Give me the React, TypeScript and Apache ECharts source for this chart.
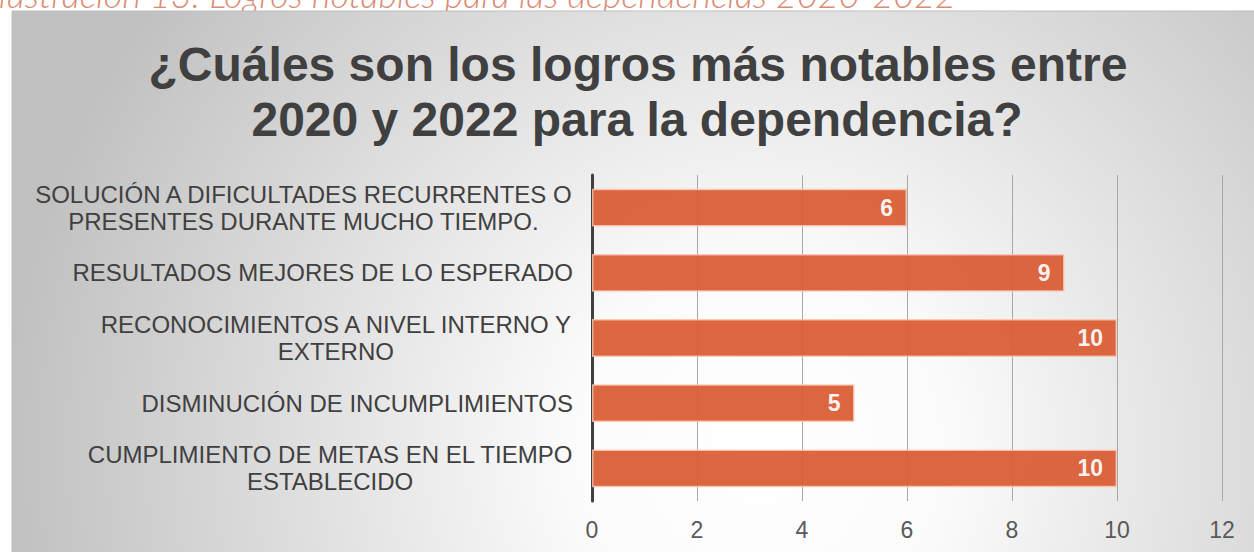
import React, { useEffect, useRef } from "react";
import * as echarts from "echarts";

const categories: string[] = [
  "SOLUCIÓN A DIFICULTADES RECURRENTES O\nPRESENTES DURANTE MUCHO TIEMPO.",
  "RESULTADOS MEJORES DE LO ESPERADO",
  "RECONOCIMIENTOS A NIVEL INTERNO Y\nEXTERNO",
  "DISMINUCIÓN DE INCUMPLIMIENTOS",
  "CUMPLIMIENTO DE METAS EN EL TIEMPO\nESTABLECIDO",
];
const values: number[] = [6, 9, 10, 5, 10];
const xTicks: number[] = [0, 2, 4, 6, 8, 10, 12];
const titleLines: string[] = [
  "¿Cuáles son los logros más notables entre",
  "2020 y 2022 para la dependencia?",
];
const caption = "Ilustración 13: Logros notables para las dependencias 2020-2022";

export default function App() {
  const ref = useRef<HTMLDivElement>(null);
  useEffect(() => {
    if (!ref.current) return;
    const chart = echarts.init(ref.current, undefined, { renderer: "svg" });
    const font = "'Liberation Sans', Arial, Helvetica, sans-serif";
    chart.setOption({
      animation: false,
      textStyle: { fontFamily: font },
      graphic: [
        {
          type: "rect",
          z: -10,
          silent: true,
          shape: { x: 12, y: 11, width: 1270, height: 570 },
          style: {
            fill: new echarts.graphic.RadialGradient(760, 450, 760, [
              { offset: 0, color: "#ffffff" },
              { offset: 0.25, color: "#fbfbfb" },
              { offset: 1, color: "#c0c0c0" },
            ], true),
            stroke: "#bdbdbd",
            lineWidth: 1,
          },
        },
        {
          type: "text",
          x: -10,
          y: 12,
          z: -20,
          silent: true,
          style: {
            text: caption,
            fontFamily: "Lato, 'Open Sans', sans-serif",
            fontStyle: "italic",
            fontWeight: 300,
            fontSize: 36,
            fill: "#db8a72",
            textVerticalAlign: "bottom",
          },
        },
        {
          type: "text",
          x: 638,
          y: 64,
          silent: true,
          style: {
            text: titleLines[0],
            fontFamily: font,
            fontWeight: "bold",
            fontSize: 48,
            fill: "#404040",
            textAlign: "center",
            textVerticalAlign: "middle",
          },
        },
        {
          type: "text",
          x: 637,
          y: 119,
          silent: true,
          style: {
            text: titleLines[1],
            fontFamily: font,
            fontWeight: "bold",
            fontSize: 48,
            fill: "#404040",
            textAlign: "center",
            textVerticalAlign: "middle",
          },
        },
      ],
      grid: { left: 592, right: 32, top: 175, bottom: 51 },
      xAxis: {
        type: "value",
        min: 0,
        max: 12,
        interval: 2,
        axisLine: { show: false },
        axisTick: { show: false },
        axisLabel: {
          margin: 17,
          fontSize: 23,
          color: "#595959",
          formatter: (v: number) => (xTicks.includes(v) ? String(v) : ""),
        },
        splitLine: { show: true, lineStyle: { color: "#a8a8a8", width: 1 } },
      },
      yAxis: {
        type: "category",
        inverse: true,
        data: categories,
        axisLine: { show: true, lineStyle: { color: "#404040", width: 3 } },
        axisTick: { show: false },
        axisLabel: {
          margin: 19,
          align: "right",
          fontSize: 24,
          color: "#404040",
          lineHeight: 27,
          formatter: (v: string) =>
            v
              .split("\n")
              .map((l) => `{c|${l}}`)
              .join("\n"),
          rich: {
            c: {
              align: "center",
              fontSize: 24,
              lineHeight: 27,
              color: "#404040",
              fontFamily: font,
            },
          },
        },
      },
      series: [
        {
          type: "bar",
          data: values,
          barCategoryGap: "42%",
          itemStyle: {
            color: "#d85a32",
            opacity: 0.93,
            borderColor: "rgba(250,200,180,0.9)",
            borderWidth: 1.5,
          },
          label: {
            show: true,
            position: "insideRight",
            distance: 14,
            color: "#ffffff",
            fontWeight: "bold",
            fontSize: 23,
            fontFamily: font,
          },
        },
      ],
    });
    return () => chart.dispose();
  }, []);
  return (
    <div
      ref={ref}
      style={{ position: "fixed", left: 0, top: 0, width: 1254, height: 552, background: "#ffffff" }}
    />
  );
}
